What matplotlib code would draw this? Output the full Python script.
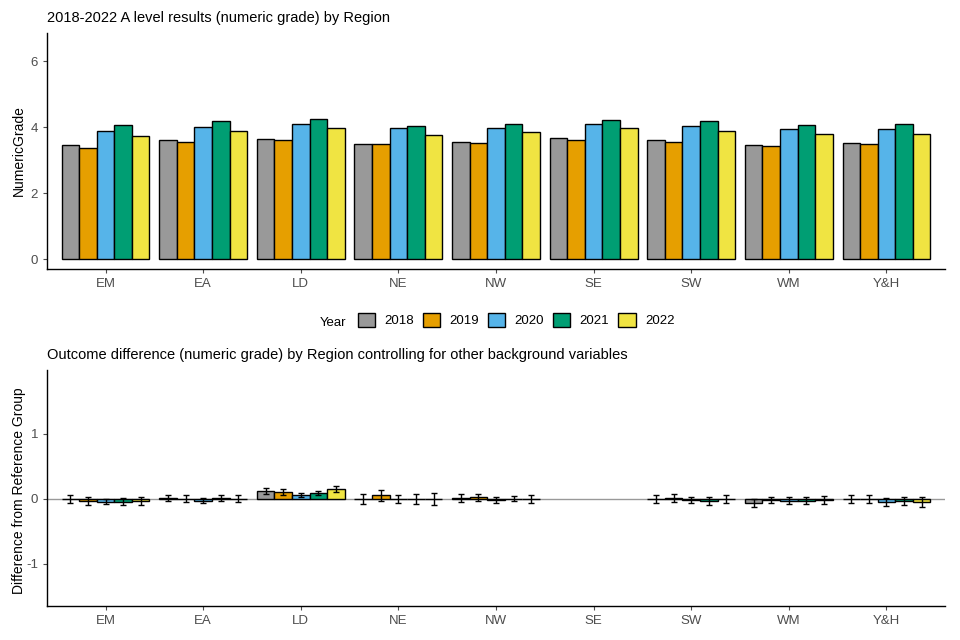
import numpy as np
import matplotlib
matplotlib.use("Agg")
import matplotlib.pyplot as plt
from matplotlib.patches import Patch

plt.rcParams['font.family'] = ['Liberation Sans', 'DejaVu Sans']
plt.rcParams['axes.unicode_minus'] = False

regions = ["EM", "EA", "LD", "NE", "NW", "SE", "SW", "WM", "Y&H"]
years = ["2018", "2019", "2020", "2021", "2022"]
colors = ["#999999", "#E69F00", "#56B4E9", "#009E73", "#F0E442"]

# mean numeric grade, one list per year (in region order)
grade_2018 = [3.46, 3.60, 3.65, 3.48, 3.56, 3.66, 3.60, 3.47, 3.52]
grade_2019 = [3.38, 3.54, 3.60, 3.48, 3.52, 3.61, 3.55, 3.42, 3.48]
grade_2020 = [3.89, 4.01, 4.09, 3.96, 3.96, 4.10, 4.03, 3.94, 3.93]
grade_2021 = [4.05, 4.17, 4.25, 4.03, 4.08, 4.22, 4.17, 4.07, 4.08]
grade_2022 = [3.73, 3.88, 3.98, 3.75, 3.86, 3.97, 3.89, 3.79, 3.79]

# difference from reference group (SE), None = reference
diff_2018 = [0.00, 0.01, 0.12, 0.00, 0.01, None, 0.00, -0.06, 0.00]
diff_2019 = [-0.03, 0.00, 0.11, 0.05, 0.02, None, 0.01, -0.02, -0.01]
diff_2020 = [-0.045, -0.03, 0.06, 0.00, -0.02, None, -0.02, -0.03, -0.05]
diff_2021 = [-0.045, 0.01, 0.085, 0.00, 0.00, None, -0.04, -0.03, -0.04]
diff_2022 = [-0.03, 0.00, 0.15, 0.00, 0.00, None, 0.00, -0.02, -0.05]

err_2018 = [0.06, 0.05, 0.045, 0.08, 0.06, None, 0.06, 0.06, 0.06]
err_2019 = [0.06, 0.05, 0.045, 0.08, 0.06, None, 0.06, 0.05, 0.06]
err_2020 = [0.04, 0.04, 0.03, 0.06, 0.04, None, 0.05, 0.05, 0.06]
err_2021 = [0.05, 0.04, 0.03, 0.08, 0.04, None, 0.06, 0.05, 0.06]
err_2022 = [0.06, 0.05, 0.045, 0.09, 0.06, None, 0.06, 0.06, 0.07]

grades = [grade_2018, grade_2019, grade_2020, grade_2021, grade_2022]
diffs = [diff_2018, diff_2019, diff_2020, diff_2021, diff_2022]
errs = [err_2018, err_2019, err_2020, err_2021, err_2022]

grey = "#4D4D4D"
fig = plt.figure(figsize=(9.6, 6.4), dpi=100)
ax1 = fig.add_axes([47/960, 1-269/640, (945-47)/960, (269-33)/640])
ax2 = fig.add_axes([47/960, 1-606/640, (945-47)/960, (606-370)/640])

x = np.arange(len(regions))
w = 0.18
for i, yr in enumerate(years):
    ax1.bar(x + (i - 2) * w, grades[i], width=w, color=colors[i],
            edgecolor="black", linewidth=1.0)

for i, yr in enumerate(years):
    xs = [x[j] + (i - 2) * w for j in range(len(regions)) if diffs[i][j] is not None]
    ys = [d for d in diffs[i] if d is not None]
    es = [e for e in errs[i] if e is not None]
    ax2.bar(xs, ys, width=w, color=colors[i], edgecolor="black", linewidth=1.0)
    ax2.errorbar(xs, ys, yerr=es, fmt="none", ecolor="black",
                 elinewidth=1.0, capsize=2, capthick=1.0, zorder=4)
ax2.axhline(0, color="#999999", linewidth=1.0, zorder=0)

for ax in (ax1, ax2):
    ax.set_xticks(x)
    ax.set_xticklabels(regions)
    ax.set_xlim(-0.6, 8.6)
    for s in ("top", "right"):
        ax.spines[s].set_visible(False)
    for s in ("left", "bottom"):
        ax.spines[s].set_color("black")
        ax.spines[s].set_linewidth(1.0)
    ax.tick_params(colors=grey, labelsize=9.5, length=3, width=0.8)

ax1.set_ylim(-0.3, 6.85)
ax1.set_yticks([0, 2, 4, 6])
ax1.set_ylabel("NumericGrade", fontsize=10)
ax1.yaxis.set_label_coords(-21/898, 0.5)
ax1.set_title("2018-2022 A level results (numeric grade) by Region",
              loc="left", fontsize=10.5, pad=8)

ax2.set_ylim(-1.65, 1.98)
ax2.set_yticks([-1, 0, 1])
ax2.set_ylabel("Difference from Reference Group", fontsize=10)
ax2.yaxis.set_label_coords(-21/898, 0.49)
ax2.set_title("Outcome difference (numeric grade) by Region controlling for other background variables",
              loc="left", fontsize=10.5, pad=8)

handles = [Patch(facecolor=c, edgecolor="black", label=y) for c, y in zip(colors, years)]
fig.legend(handles=handles, loc="center", bbox_to_anchor=(516/960, 1-320/640),
           ncol=5, frameon=False, fontsize=9.5,
           handlelength=1.3, handleheight=1.3, columnspacing=0.7, handletextpad=0.7)
fig.text(346/960, 1-321/640, "Year", ha="right", va="center_baseline", fontsize=9.5)

fig.savefig("out.png", dpi=100)
